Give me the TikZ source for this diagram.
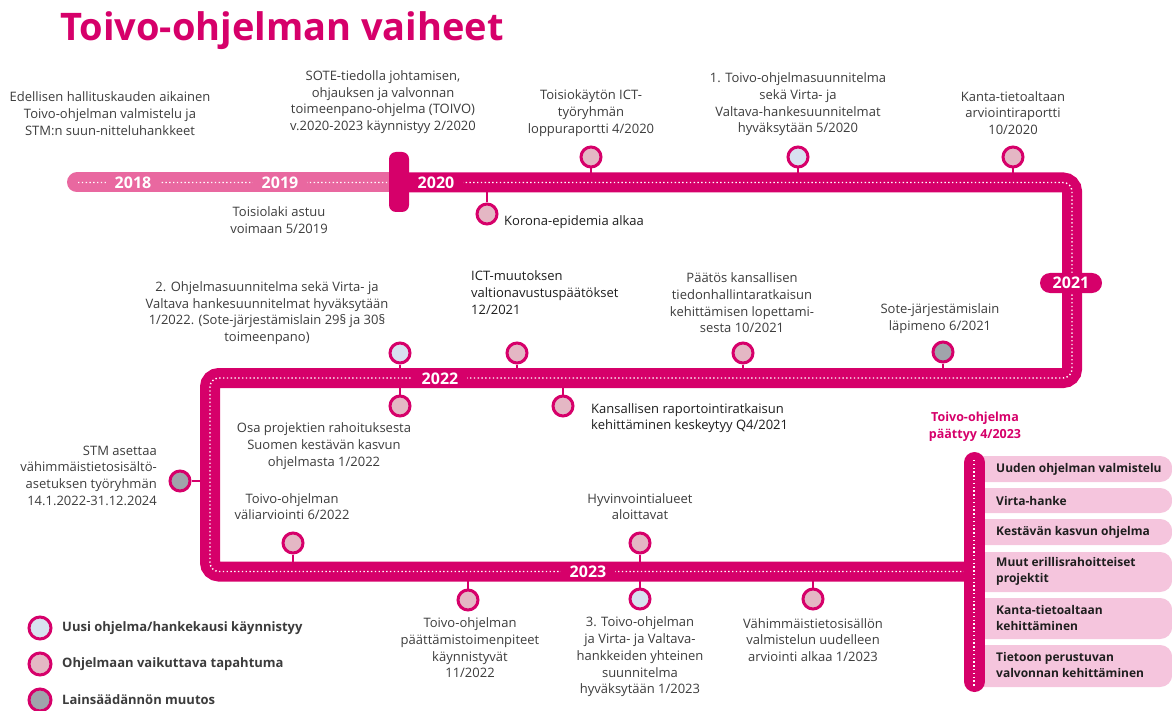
\documentclass[tikz,border=0pt]{standalone}
\usepackage{fontspec}
\setmainfont{Open Sans}
\definecolor{mag}{RGB}{214,0,106}
\definecolor{lmag}{RGB}{233,104,160}
\definecolor{boxpink}{RGB}{245,197,221}
\definecolor{cpink}{RGB}{228,183,196}
\definecolor{cblue}{RGB}{216,225,240}
\definecolor{cgray}{RGB}{160,164,171}
\definecolor{txt}{RGB}{60,60,60}
\definecolor{txtd}{RGB}{30,30,30}
\tikzset{
  ev/.style={circle, draw=mag, line width=3pt, minimum size=20pt, inner sep=0pt},
  evp/.style={ev, fill=cpink},
  evb/.style={ev, fill=cblue},
  evg/.style={ev, fill=cgray},
  lev/.style={ev, minimum size=22pt},
  lbl/.style={font=\fontsize{13}{16.7}\selectfont, text=txt, align=center, inner sep=0pt},
  lbld/.style={lbl, text=txtd, align=left},
  yr/.style={font=\bfseries\fontsize{16}{16}\selectfont, text=white, fill=mag, inner xsep=9pt, inner ysep=2pt},
  stem/.style={draw=mag, line width=2.5pt},
  dots/.style={white, line width=1.4pt, dash pattern=on 1.4pt off 2.4pt},
  boxn/.style={fill=boxpink, rounded corners=12pt, minimum width=202pt, anchor=west, inner sep=0pt},
  boxt/.style={font=\bfseries\fontsize{12}{16}\selectfont, text=txtd, align=left, anchor=west, inner sep=0pt},
  legt/.style={font=\bfseries\fontsize{13}{15}\selectfont, text={rgb,255:red,60;green,60;blue,60}, anchor=west, inner sep=0pt}
}
\begin{document}
\begin{tikzpicture}[x=1pt,y=-1pt]
\useasboundingbox (0,0) rectangle (1172,711);
% title
\node[anchor=base west, inner sep=0pt, text=mag, font=\bfseries\fontsize{38}{40}\selectfont] (title) at (60,41) {Toivo-ohjelman vaiheet};

% timeline
\draw[lmag, line width=20pt, line cap=round] (77,182.5) -- (399,182.5);
\draw[mag, line width=20pt, rounded corners=9pt] (398,182.5) -- (1072,182.5) -- (1072,378) -- (210,378) -- (210,571.5) -- (975,571.5);
\draw[dots, rounded corners=9pt] (78,182.5) -- (1072,182.5) -- (1072,378) -- (210,378) -- (210,571.5) -- (964,571.5);
\node[fill=mag, rounded corners=7pt, minimum width=20pt, minimum height=60pt, inner sep=0pt] (mark) at (399,182) {};

% final bar and boxes
\node[boxn, minimum height=26pt] (b1) at (970,469) {};
\node[boxn, minimum height=25pt] (b2) at (970,500.5) {};
\node[boxn, minimum height=26pt] (b3) at (970,532) {};
\node[boxn, minimum height=40pt] (b4) at (970,572) {};
\node[boxn, minimum height=41pt] (b5) at (970,618.5) {};
\node[boxn, minimum height=42pt] (b6) at (970,666) {};
\draw[mag, line width=21pt, line cap=round] (974.5,462.5) -- (974.5,681.5);
\draw[dots] (974,460) -- (974,686);
\node[boxt] (t1) at (996,469) {Uuden ohjelman valmistelu};
\node[boxt] (t2) at (996,500.5) {Virta-hanke};
\node[boxt] (t3) at (996,532) {Kestävän kasvun ohjelma};
\node[boxt] (t4) at (996,571) {Muut erillisrahoitteiset\\projektit};
\node[boxt] (t5) at (996,618) {Kanta-tietoaltaan\\kehittäminen};
\node[boxt] (t6) at (996,665) {Tietoon perustuvan\\valvonnan kehittäminen};

% year labels
\node[yr, fill=lmag] (y18) at (133,183) {2018};
\node[yr, fill=lmag] (y19) at (280,183) {2019};
\node[yr] (y20) at (436,183) {2020};
\node[yr, rounded corners=10pt, minimum width=62pt, minimum height=20pt, inner xsep=4pt] (y21) at (1071,283) {2021};
\node[yr] (y22) at (440,379) {2022};
\node[yr] (y23) at (588,572) {2023};

% line attachment coordinates
\coordinate (kor0) at (487,192);
\coordinate (tois0) at (591,173);
\coordinate (p10) at (798,173);
\coordinate (kan0) at (1013,173);
\coordinate (p20) at (400,368);
\coordinate (ict0) at (517,368);
\coordinate (paa0) at (743,368);
\coordinate (sot0) at (943,368);
\coordinate (osa0) at (400,388);
\coordinate (kans0) at (563,388);
\coordinate (stm0) at (201,481);
\coordinate (val0) at (293,562);
\coordinate (hyv0) at (640,562);
\coordinate (pat0) at (468,581);
\coordinate (p30) at (640,581);
\coordinate (vah0) at (813,581);

% events
\node[evp] (kor) at (487,214) {};
\node[evp] (tois) at (591,157) {};
\node[evb] (p1) at (798,157) {};
\node[evp] (kan) at (1013,157) {};
\node[evb] (p2) at (400,353) {};
\node[evp] (ict) at (517,353) {};
\node[evp] (paa) at (743,353) {};
\node[evg] (sot) at (943,352) {};
\node[evp] (osa) at (400,406) {};
\node[evp] (kans) at (563,406) {};
\node[evg] (stm) at (180,481) {};
\node[evp] (val) at (293,543) {};
\node[evp] (hyv) at (640,543) {};
\node[evp] (pat) at (468,600) {};
\node[evb] (p3) at (640,599) {};
\node[evp] (vah) at (813,599) {};

\foreach \e in {kor,tois,p1,kan,p2,ict,paa,sot,osa,kans,stm,val,hyv,pat,p3,vah}
  \draw[stem] (\e) -- (\e0);

% texts
\node[lbl] (tedel) at (110,113.5) {Edellisen hallituskauden aikainen\\Toivo-ohjelman valmistelu ja\\STM:n suun-nitteluhankkeet};
\node[lbl] (tsote) at (383,102) {SOTE-tiedolla johtamisen,\\ohjauksen ja valvonnan\\toimeenpano-ohjelma (TOIVO)\\v.2020-2023 käynnistyy 2/2020};
\node[lbl] (ttl) at (279,220) {Toisiolaki astuu\\voimaan 5/2019};
\node[lbld, anchor=west] (tkor) at (504,222) {Korona-epidemia alkaa};
\node[lbl] (ttois) at (591,113) {Toisiokäytön ICT-\\työryhmän\\loppuraportti 4/2020};
\node[lbl] (tp1) at (798,104.5) {1. Toivo-ohjelmasuunnitelma\\sekä Virta- ja\\Valtava-hankesuunnitelmat\\hyväksytään 5/2020};
\node[lbl] (tkan) at (1013,113) {Kanta-tietoaltaan\\arviointiraportti\\10/2020};
\node[lbl] (tp2) at (267,313) {2. Ohjelmasuunnitelma sekä Virta- ja\\Valtava hankesuunnitelmat hyväksytään\\1/2022. (Sote-järjestämislain 29§ ja 30§\\toimeenpano)};
\node[lbld, anchor=west] (tict) at (471,292.5) {ICT-muutoksen\\valtionavustuspäätökset\\12/2021};
\node[lbl] (tpaa) at (742,303) {Päätös kansallisen\\tiedonhallintaratkaisun\\kehittämisen lopettami-\\sesta 10/2021};
\node[lbl] (tsot) at (940,318.5) {Sote-järjestämislain\\läpimeno 6/2021};
\node[lbl] (tosa) at (324,446) {Osa projektien rahoituksesta\\Suomen kestävän kasvun\\ohjelmasta 1/2022};
\node[lbld, anchor=west] (tkans) at (591,418) {Kansallisen raportointiratkaisun\\kehittäminen keskeytyy Q4/2021};
\node[lbl, align=right, anchor=east] (tstm) at (157,475.5) {STM asettaa\\vähimmäistietosisältö-\\asetuksen työryhmän\\14.1.2022-31.12.2024};
\node[lbl] (tval) at (292,506.5) {Toivo-ohjelman\\väliarviointi 6/2022};
\node[lbl] (thyv) at (640,506.5) {Hyvinvointialueet\\aloittavat};
\node[lbl] (tpat) at (470,648) {Toivo-ohjelman\\päättämistoimenpiteet\\käynnistyvät\\11/2022};
\node[lbl] (tp3) at (640,657) {3. Toivo-ohjelman\\ja Virta- ja Valtava-\\hankkeiden yhteinen\\suunnitelma\\hyväksytään 1/2023};
\node[lbl] (tvah) at (813,640) {Vähimmäistietosisällön\\valmistelun uudelleen\\arviointi alkaa 1/2023};
\node[font=\bfseries\fontsize{12.5}{17}\selectfont, text=mag, align=center, inner sep=0pt] (tend) at (975,426.5) {Toivo-ohjelma\\päättyy 4/2023};

% legend
\node[lev, fill=cblue] (l1) at (40,628) {};
\node[lev, fill=cpink] (l2) at (40,664) {};
\node[lev, fill=cgray] (l3) at (40,700) {};
\node[legt] (lt1) at (62,628) {Uusi ohjelma/hankekausi käynnistyy};
\node[legt] (lt2) at (62,664) {Ohjelmaan vaikuttava tapahtuma};
\node[legt] (lt3) at (62,700) {Lainsäädännön muutos};
\end{tikzpicture}
\end{document}
